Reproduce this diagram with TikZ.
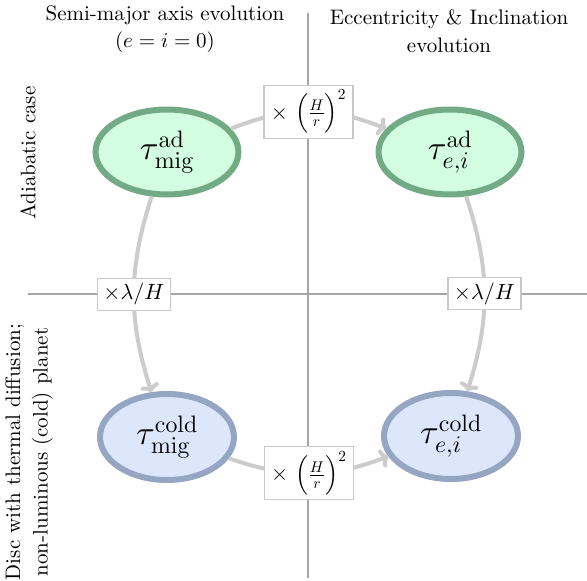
\documentclass[tikz,border=0pt]{standalone}
\DeclareFontFamily{TU}{lmr}{}
\DeclareFontShape{TU}{lmr}{m}{n}{<->"[lmroman10-regular]:+tlig;"}{}
\DeclareFontShape{OT1}{cmr}{m}{n}{<->cmr10}{}
\DeclareFontShape{OML}{cmm}{m}{it}{<->cmmi10}{}
\DeclareFontShape{OMS}{cmsy}{m}{n}{<->cmsy10}{}
\DeclareFontShape{OMX}{cmex}{m}{n}{<->cmex10}{}
\usetikzlibrary{shapes.geometric,arrows.meta}
\definecolor{gfill}{HTML}{D3FDE0}
\definecolor{gdraw}{HTML}{73AA86}
\definecolor{bfill}{HTML}{DDE7FC}
\definecolor{bdraw}{HTML}{95A5C2}
\definecolor{arrgray}{HTML}{CCCCCC}
\definecolor{axisgray}{HTML}{A6A6A6}
\definecolor{labgray}{HTML}{C8C8C8}
\newcommand{\hrfactor}{\times\,\left(\rule[-0.6em]{0pt}{1.7em}\frac{H}{r}\right)^{2}}
\begin{document}
\begin{tikzpicture}[x=1pt,y=-1pt,
  tauell/.style={ellipse, line width=6pt, inner sep=0pt, font=\fontsize{34}{40}\selectfont},
  adn/.style={tauell, fill=gfill, draw=gdraw, minimum width=143pt, minimum height=85pt},
  coldn/.style={tauell, fill=bfill, draw=bdraw, minimum width=134pt, minimum height=86pt},
  conn/.style={draw=arrgray, line width=4pt, -{To[length=8pt,width=19pt]}},
  lab/.style={draw=labgray, fill=white, line width=1.2pt, font=\fontsize{22}{26}\selectfont, inner sep=2pt},
  labh/.style={lab, minimum width=89pt, minimum height=53pt},
  labl/.style={lab, minimum width=73pt, minimum height=32pt},
  head/.style={align=center, font=\fontsize{21}{27.5}\selectfont},
  axisline/.style={draw=axisgray, line width=1.1pt}
]
\useasboundingbox (0,0) rectangle (587,581);
\draw[axisline] (308,13) -- (308,578);
\draw[axisline] (28,294) -- (587,294);

\node[adn] (tl) at (167,152) {$\tau^{\mathrm{ad}}_{\mathrm{mig}}$};
\node[adn] (tr) at (450,152) {$\tau^{\mathrm{ad}}_{e,i}$};
\node[coldn] (bl) at (167,437) {$\tau^{\mathrm{cold}}_{\mathrm{mig}}$};
\node[coldn] (br) at (451,436) {$\tau^{\mathrm{cold}}_{e,i}$};

\node[head] (h1) at (165,29) {Semi-major axis evolution\\$(e=i=0)$};
\node[head] (h2) at (449,31) {Eccentricity \& Inclination\\evolution};
\node[head, rotate=90] (s1) at (28,153) {Adiabatic case};
\node[head, rotate=90] (s2) at (29,452) {Disc with thermal diffusion;\\non-luminous (cold) planet};

\draw[conn] (tl.20) to[bend left=22] node[labh] (l1) {$\hrfactor$} (tr.160);
\draw[conn] (tl.251) to[bend right=18] node[labl] (l2) {$\times\lambda/H$} (bl.109);
\draw[conn] (tr.290) to[bend left=18] node[labl] (l3) {$\times\lambda/H$} (br.70);
\draw[conn] (bl.-19) to[bend right=20] node[labh] (l4) {$\hrfactor$} (br.198);
\end{tikzpicture}
\end{document}
